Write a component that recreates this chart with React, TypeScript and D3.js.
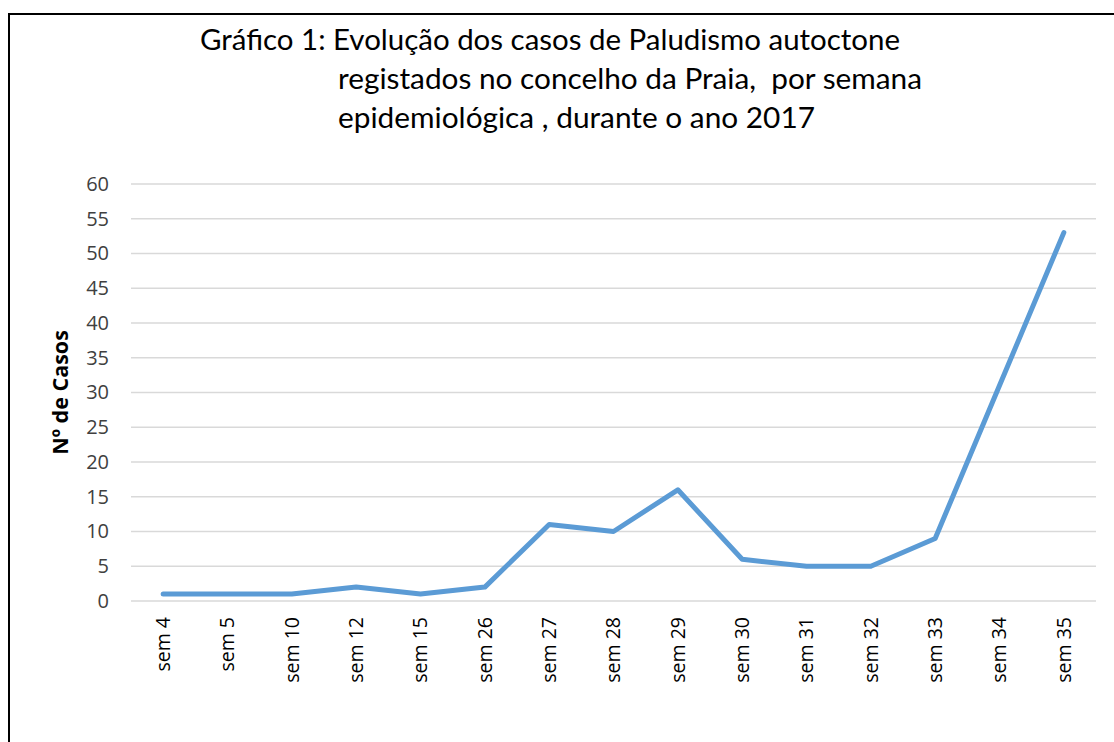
import { useEffect, useRef } from "react";
import * as d3 from "d3";

const WIDTH = 1114;
const HEIGHT = 742;
const MARGIN = { top: 184, right: 18, bottom: 141, left: 131 };
const INNER_W = WIDTH - MARGIN.left - MARGIN.right;
const INNER_H = HEIGHT - MARGIN.top - MARGIN.bottom;

const weeks = [
  "sem 4", "sem 5", "sem 10", "sem 12", "sem 15", "sem 26", "sem 27", "sem 28",
  "sem 29", "sem 30", "sem 31", "sem 32", "sem 33", "sem 34", "sem 35",
];
const cases = [1, 1, 1, 2, 1, 2, 11, 10, 16, 6, 5, 5, 9, 31, 53];
const yTicks = [0, 5, 10, 15, 20, 25, 30, 35, 40, 45, 50, 55, 60];
const titleLines = [
  "Gráfico 1: Evolução dos casos de Paludismo autoctone",
  "registados no concelho da Praia,  por semana",
  "epidemiológica , durante o ano 2017",
];

const FONT = "'Open Sans', Lato, sans-serif";
const TITLE_FONT = "Lato, 'Open Sans', sans-serif";

export default function App() {
  const svgRef = useRef<SVGSVGElement>(null);

  useEffect(() => {
    if (!svgRef.current) return;
    const svg = d3.select(svgRef.current);
    svg.selectAll("*").remove();

    svg.append("rect")
      .attr("x", 0).attr("y", 0)
      .attr("width", WIDTH).attr("height", HEIGHT)
      .attr("fill", "white");

    // outer frame (runs off the right and bottom edge)
    svg.append("rect")
      .attr("x", 9).attr("y", 14)
      .attr("width", WIDTH + 20).attr("height", HEIGHT + 20)
      .attr("fill", "none")
      .attr("stroke", "#000")
      .attr("stroke-width", 2);

    // title
    const titlePos = [
      { x: 200, y: 50, w: 700 },
      { x: 338, y: 89, w: 584 },
      { x: 338, y: 128, w: 477 },
    ];
    titleLines.forEach((t, i) => {
      svg.append("text")
        .attr("x", titlePos[i].x)
        .attr("y", titlePos[i].y)
        .attr("textLength", titlePos[i].w)
        .attr("lengthAdjust", "spacingAndGlyphs")
        .style("white-space", "pre")
        .style("font-family", TITLE_FONT)
        .style("font-size", "28px")
        .style("fill", "#000")
        .text(t);
    });

    const x = d3.scaleBand<string>().domain(weeks).range([0, INNER_W]).padding(0);
    const y = d3.scaleLinear().domain([0, 60]).range([INNER_H, 0]);

    const g = svg.append("g")
      .attr("transform", `translate(${MARGIN.left},${MARGIN.top})`);

    g.append("g")
      .selectAll("line")
      .data(yTicks)
      .join("line")
      .attr("x1", 0).attr("x2", INNER_W)
      .attr("y1", (d) => y(d)).attr("y2", (d) => y(d))
      .attr("stroke", "#d9d9d9")
      .attr("stroke-width", 1.5);

    g.append("g")
      .call(d3.axisLeft(y).tickValues(yTicks).tickSize(0).tickPadding(22))
      .call((a) => a.select(".domain").remove())
      .selectAll("text")
      .style("font-family", FONT)
      .style("font-size", "20px")
      .style("fill", "#404040");

    g.append("g")
      .attr("transform", `translate(0,${INNER_H})`)
      .call(d3.axisBottom(x).tickSize(0))
      .call((a) => a.select(".domain").remove())
      .selectAll("text")
      .attr("transform", "rotate(-90)")
      .attr("text-anchor", "end")
      .attr("x", -16)
      .attr("y", 0)
      .attr("dy", "0.35em")
      .style("font-family", FONT)
      .style("font-size", "19.5px")
      .style("fill", "#000");

    const line = d3.line<number>()
      .x((_, i) => (x(weeks[i]) ?? 0) + x.bandwidth() / 2)
      .y((d) => y(d));

    g.append("path")
      .datum(cases)
      .attr("fill", "none")
      .attr("stroke", "#5b9bd5")
      .attr("stroke-width", 5)
      .attr("stroke-linecap", "round")
      .attr("stroke-linejoin", "round")
      .attr("d", line);

    svg.append("text")
      .attr("transform", `translate(68,${MARGIN.top + y(30)}) rotate(-90)`)
      .attr("text-anchor", "middle")
      .style("font-family", FONT)
      .style("font-size", "21.5px")
      .style("font-weight", "bold")
      .style("fill", "#000")
      .text("Nº de Casos");
  }, []);

  return (
    <svg
      ref={svgRef}
      width={WIDTH}
      height={HEIGHT}
      style={{ position: "absolute", left: 0, top: 0, display: "block" }}
    />
  );
}
